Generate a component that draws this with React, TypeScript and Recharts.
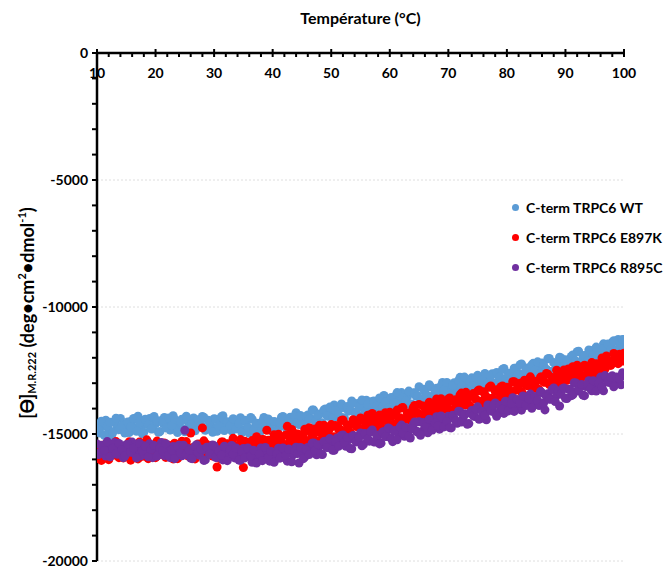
import React from "react";
import {
	ScatterChart,
	Scatter,
	XAxis,
	YAxis,
	ZAxis,
	CartesianGrid,
} from "recharts";

// temperature (°C), first scan: one reading every 0.5 °C
const temps = [
	10, 10.5, 11, 11.5, 12, 12.5, 13, 13.5, 14, 14.5,
	15, 15.5, 16, 16.5, 17, 17.5, 18, 18.5, 19, 19.5,
	20, 20.5, 21, 21.5, 22, 22.5, 23, 23.5, 24, 24.5,
	25, 25.5, 26, 26.5, 27, 27.5, 28, 28.5, 29, 29.5,
	30, 30.5, 31, 31.5, 32, 32.5, 33, 33.5, 34, 34.5,
	35, 35.5, 36, 36.5, 37, 37.5, 38, 38.5, 39, 39.5,
	40, 40.5, 41, 41.5, 42, 42.5, 43, 43.5, 44, 44.5,
	45, 45.5, 46, 46.5, 47, 47.5, 48, 48.5, 49, 49.5,
	50, 50.5, 51, 51.5, 52, 52.5, 53, 53.5, 54, 54.5,
	55, 55.5, 56, 56.5, 57, 57.5, 58, 58.5, 59, 59.5,
	60, 60.5, 61, 61.5, 62, 62.5, 63, 63.5, 64, 64.5,
	65, 65.5, 66, 66.5, 67, 67.5, 68, 68.5, 69, 69.5,
	70, 70.5, 71, 71.5, 72, 72.5, 73, 73.5, 74, 74.5,
	75, 75.5, 76, 76.5, 77, 77.5, 78, 78.5, 79, 79.5,
	80, 80.5, 81, 81.5, 82, 82.5, 83, 83.5, 84, 84.5,
	85, 85.5, 86, 86.5, 87, 87.5, 88, 88.5, 89, 89.5,
	90, 90.5, 91, 91.5, 92, 92.5, 93, 93.5, 94, 94.5,
	95, 95.5, 96, 96.5, 97, 97.5, 98, 98.5, 99, 99.5,
	100,
];

// in-between readings (x.25 / x.75 °C)
const tempsB = [
	10.25, 10.75, 11.25, 11.75, 12.25, 12.75, 13.25, 13.75, 14.25, 14.75,
	15.25, 15.75, 16.25, 16.75, 17.25, 17.75, 18.25, 18.75, 19.25, 19.75,
	20.25, 20.75, 21.25, 21.75, 22.25, 22.75, 23.25, 23.75, 24.25, 24.75,
	25.25, 25.75, 26.25, 26.75, 27.25, 27.75, 28.25, 28.75, 29.25, 29.75,
	30.25, 30.75, 31.25, 31.75, 32.25, 32.75, 33.25, 33.75, 34.25, 34.75,
	35.25, 35.75, 36.25, 36.75, 37.25, 37.75, 38.25, 38.75, 39.25, 39.75,
	40.25, 40.75, 41.25, 41.75, 42.25, 42.75, 43.25, 43.75, 44.25, 44.75,
	45.25, 45.75, 46.25, 46.75, 47.25, 47.75, 48.25, 48.75, 49.25, 49.75,
	50.25, 50.75, 51.25, 51.75, 52.25, 52.75, 53.25, 53.75, 54.25, 54.75,
	55.25, 55.75, 56.25, 56.75, 57.25, 57.75, 58.25, 58.75, 59.25, 59.75,
	60.25, 60.75, 61.25, 61.75, 62.25, 62.75, 63.25, 63.75, 64.25, 64.75,
	65.25, 65.75, 66.25, 66.75, 67.25, 67.75, 68.25, 68.75, 69.25, 69.75,
	70.25, 70.75, 71.25, 71.75, 72.25, 72.75, 73.25, 73.75, 74.25, 74.75,
	75.25, 75.75, 76.25, 76.75, 77.25, 77.75, 78.25, 78.75, 79.25, 79.75,
	80.25, 80.75, 81.25, 81.75, 82.25, 82.75, 83.25, 83.75, 84.25, 84.75,
	85.25, 85.75, 86.25, 86.75, 87.25, 87.75, 88.25, 88.75, 89.25, 89.75,
	90.25, 90.75, 91.25, 91.75, 92.25, 92.75, 93.25, 93.75, 94.25, 94.75,
	95.25, 95.75, 96.25, 96.75, 97.25, 97.75, 98.25, 98.75, 99.25, 99.75,
];

const wtValues = [
	-14640, -14960, -14700, -14460, -14820, -15050, -14550, -14730, -14390, -14840,
	-14620, -14940, -14470, -14770, -14300, -14690, -14930, -14540, -14390, -14800,
	-14600, -14930, -14470, -14350, -14680, -14840, -14280, -14740, -14560, -14420,
	-14910, -14510, -14660, -14370, -14770, -14590, -14310, -14850, -14460, -14670,
	-14400, -14890, -14530, -14280, -14740, -14590, -14870, -14450, -14660, -14360,
	-14830, -14530, -14970, -14420, -14720, -14600, -14810, -14350, -14670, -14490,
	-14910, -14540, -14750, -14340, -14610, -14850, -14340, -14600, -14160, -14630,
	-14400, -14660, -14250, -14390, -14060, -14510, -14210, -14570, -14020, -14300,
	-14150, -13860, -14320, -13990, -14360, -14000, -14100, -13700, -14150, -13800,
	-14290, -13910, -13670, -14000, -13720, -14090, -13740, -13850, -13480, -13960,
	-13660, -14000, -13500, -13730, -13370, -13760, -13540, -13860, -13390, -13510,
	-13140, -13670, -13340, -13510, -13150, -13610, -13200, -13330, -12970, -13400,
	-13180, -13470, -12980, -13210, -12770, -13190, -12990, -13260, -12790, -12980,
	-12690, -13080, -12780, -13180, -12810, -12630, -12990, -12680, -12790, -12420,
	-12820, -12610, -12900, -12410, -12610, -12240, -12720, -12400, -12560, -12220,
	-12720, -12370, -12210, -12480, -12040, -12540, -12200, -12290, -11980, -12370,
	-12080, -12400, -11950, -12120, -11760, -12180, -11920, -12200, -11690, -11930,
	-11690, -12020, -11690, -11450, -11820, -11620, -11390, -11690, -11280, -11540,
	-11280,
];

const wtValuesB = [
	-14840, -14500, -15050, -14680, -14540, -14920, -14380, -14830, -14680, -14960,
	-14530, -14720, -14390, -14890, -14550, -14990, -14420, -14640, -14800, -14310,
	-14480, -14900, -14570, -14760, -14370, -14670, -14420, -14940, -14520, -14810,
	-14300, -14720, -14590, -14870, -14440, -14630, -14350, -14800, -14540, -14930,
	-14420, -14690, -14320, -14860, -14520, -14660, -14400, -14800, -14590, -14940,
	-14460, -14740, -14350, -14850, -14580, -14980, -14500, -14670, -14410, -14800,
	-14510, -14880, -14560, -14310, -14740, -14460, -14820, -14290, -14540, -14270,
	-14670, -14310, -14410, -14060, -14500, -14260, -14560, -14050, -14270, -13940,
	-14380, -14080, -14240, -13820, -14370, -13920, -14050, -13790, -14160, -13930,
	-13660, -14120, -13830, -14190, -13700, -13890, -13580, -13940, -13750, -13990,
	-13560, -13760, -13370, -13870, -13560, -13700, -13310, -13820, -13380, -13490,
	-13710, -13240, -13480, -13060, -13510, -13290, -13590, -13110, -13260, -12970,
	-13370, -13090, -13410, -12900, -13120, -12760, -13230, -12920, -13090, -12780,
	-13190, -12860, -12620, -13000, -12720, -13090, -12580, -12760, -12460, -12870,
	-12620, -12880, -12410, -12680, -12270, -12710, -12480, -12780, -12280, -12480,
	-12160, -12610, -12270, -12450, -12030, -12540, -12200, -12260, -12010, -12330,
	-12110, -12400, -11890, -12120, -11740, -12150, -11910, -12140, -11710, -11890,
	-11580, -11910, -11650, -11960, -11460, -11660, -11330, -11680, -11450, -11280,
];

const e897kValues = [
	-15960, -15520, -15760, -15390, -16010, -15640, -15830, -15440, -15680, -15940,
	-15540, -15310, -15840, -15590, -15980, -15440, -15730, -15230, -15870, -15610,
	-15930, -15480, -15670, -15350, -15830, -15540, -15980, -15420, -15720, -15290,
	-15630, -15860, -14960, -15600, -15770, -15570, -14760, -15370, -15660, -15450,
	-15830, -16300, -15970, -15320, -15670, -15390, -15720, -15470, -15740, -15220,
	-16320, -15780, -15340, -15260, -15600, -15360, -15690, -15230, -14850, -15580,
	-15220, -15440, -15010, -15300, -15540, -14700, -15200, -14950, -15390, -15030,
	-15170, -14810, -15370, -14900, -15170, -14920, -14660, -15140, -14830, -14990,
	-14630, -15110, -14700, -14810, -14450, -14910, -14680, -15010, -14490, -14710,
	-14370, -14790, -14470, -14560, -14190, -14640, -14420, -14710, -14250, -14460,
	-14140, -14650, -14240, -14410, -13980, -14430, -14180, -14450, -13960, -14170,
	-13840, -14240, -13980, -14310, -13850, -13980, -13620, -14130, -13790, -13960,
	-13620, -14070, -13730, -13890, -13460, -13740, -13360, -13850, -13500, -13580,
	-13310, -13810, -13340, -13540, -13160, -13590, -13320, -13680, -13140, -13340,
	-13160, -13490, -12940, -13280, -13120, -13340, -12880, -13100, -12750, -13180,
	-12930, -13260, -12760, -12960, -12650, -12990, -12810, -12490, -12980, -12660,
	-12750, -12440, -12820, -12560, -12290, -12650, -12360, -12710, -12400, -12190,
	-12500, -12250, -12560, -12120, -11930, -12280, -12130, -11890, -12230, -11980,
	-11820,
];

const e897kValuesB = [
	-15550, -16040, -15670, -15900, -15400, -15770, -15300, -15930, -15600, -15820,
	-15420, -16030, -15540, -15670, -15320, -15880, -15590, -15970, -15440, -15730,
	-15280, -15810, -15620, -15920, -15440, -15690, -15360, -15970, -15520, -15750,
	-15300, -15850, -15540, -15980, -15390, -15640, -15270, -15780, -15470, -15870,
	-15550, -15910, -15320, -15670, -15380, -15810, -15170, -15600, -15430, -15880,
	-15290, -15630, -15410, -15740, -15110, -15430, -15220, -15680, -15250, -15520,
	-15030, -15370, -15230, -15540, -15040, -15360, -14820, -15190, -15000, -15360,
	-15010, -15260, -14750, -15100, -14800, -15300, -14940, -14660, -15070, -14790,
	-15130, -14670, -14820, -14470, -14930, -14640, -14950, -14440, -14700, -14480,
	-14820, -14530, -14260, -14690, -14420, -14800, -14250, -14440, -14160, -14560,
	-14290, -14610, -14060, -14360, -13960, -14420, -14170, -14300, -13880, -14170,
	-14380, -13900, -14080, -13750, -14190, -13910, -14030, -13610, -14030, -13820,
	-13580, -14040, -13650, -13760, -13390, -13860, -13590, -13910, -13410, -13640,
	-13270, -13710, -13450, -13590, -13110, -13640, -13260, -13390, -13110, -13570,
	-13180, -13410, -12940, -13240, -13000, -13430, -13050, -12850, -13170, -12920,
	-13220, -12760, -12950, -12620, -13050, -12780, -13040, -12690, -12810, -12480,
	-12890, -12620, -12350, -12720, -12530, -12780, -12290, -12490, -12300, -12710,
	-12230, -12370, -12010, -12440, -12150, -12300, -11830, -12080, -11860, -12130,
];

const r895cValues = [
	-15390, -15740, -15550, -15870, -15460, -15610, -15340, -15800, -15530, -15930,
	-15420, -15660, -15320, -15780, -15590, -15860, -15460, -15660, -15380, -15930,
	-15540, -15750, -15340, -15850, -15600, -15930, -15490, -15700, -15440, -15860,
	-14850, -15570, -15950, -15650, -15420, -15840, -15630, -16020, -15520, -15760,
	-15460, -15920, -15620, -16020, -15580, -15820, -15450, -15940, -15730, -16030,
	-15570, -15880, -15660, -16110, -15750, -15970, -15550, -15870, -15660, -16070,
	-15750, -15950, -15560, -15820, -15600, -16070, -15660, -15820, -15520, -16140,
	-15730, -15900, -15530, -15680, -15350, -15820, -15470, -15810, -15290, -15520,
	-15360, -15640, -15160, -15370, -15040, -15480, -15230, -15580, -15110, -15280,
	-14960, -15410, -15080, -15280, -14840, -15310, -15070, -15360, -14900, -15100,
	-14800, -15300, -14860, -14990, -14650, -15090, -14820, -15160, -14630, -14880,
	-14520, -14900, -14690, -14950, -14510, -14660, -14320, -14810, -14470, -14640,
	-14300, -14760, -14380, -14580, -14120, -14390, -14200, -14590, -14080, -14310,
	-13930, -14390, -14100, -14440, -13930, -14110, -13780, -14180, -13890, -14190,
	-13770, -13900, -13570, -14030, -13740, -14060, -13570, -13800, -13430, -13810,
	-13610, -13880, -13380, -14050, -13420, -13620, -13190, -13470, -13900, -13220,
	-13590, -13240, -13490, -12980, -13310, -13070, -13470, -13130, -12900, -13300,
	-13020, -13170, -12760, -13300, -12860, -12970, -12710, -13030, -12780, -13060,
	-12700,
];

const r895cValuesB = [
	-15810, -15440, -15650, -15300, -15900, -15560, -15770, -15370, -15610, -15870,
	-15410, -15720, -15540, -15940, -15360, -15650, -15490, -15900, -15600, -15450,
	-15870, -15540, -15670, -15380, -15840, -15620, -15970, -15500, -15750, -15440,
	-15820, -15630, -15970, -15480, -15720, -15590, -16040, -15520, -15800, -15430,
	-15920, -15670, -15830, -15480, -16050, -15620, -15790, -15550, -16030, -15690,
	-15940, -15550, -15860, -15640, -16140, -15800, -16050, -15530, -15930, -15690,
	-16110, -15770, -15950, -15550, -15840, -15590, -16090, -15660, -15770, -15530,
	-15970, -15620, -15810, -15360, -15650, -15420, -15790, -15300, -15530, -15180,
	-15640, -15300, -15480, -15060, -15330, -15140, -15570, -15060, -15310, -15140,
	-15460, -14980, -15180, -14910, -15310, -15040, -15390, -14930, -15100, -14760,
	-15180, -14890, -15230, -14730, -14960, -14740, -15090, -14790, -14530, -14920,
	-15050, -14550, -14720, -14420, -14840, -14570, -14680, -14290, -14720, -14510,
	-14750, -14260, -14480, -14100, -14530, -14240, -14620, -14180, -14270, -14030,
	-14420, -14110, -14260, -13860, -14060, -13860, -14300, -13880, -14010, -13710,
	-14090, -13800, -14110, -13640, -13780, -13500, -13880, -13610, -13990, -13520,
	-13680, -13330, -13790, -13530, -13630, -13250, -13720, -13310, -13430, -13190,
	-13600, -13240, -13460, -12990, -13250, -13050, -13490, -13050, -13200, -12900,
	-13310, -12990, -13150, -12700, -12940, -12760, -13140, -12760, -12820, -12590,
];

const xTicks = [
	10, 12, 14, 16, 18, 20, 22, 24, 26, 28, 30, 32, 34, 36, 38, 40, 42, 44, 46, 48,
	50, 52, 54, 56, 58, 60, 62, 64, 66, 68, 70, 72, 74, 76, 78, 80, 82, 84, 86, 88,
	90, 92, 94, 96, 98, 100,
];
const yTicks = [
	0, -1000, -2000, -3000, -4000, -5000, -6000, -7000, -8000, -9000, -10000,
	-11000, -12000, -13000, -14000, -15000, -16000, -17000, -18000, -19000, -20000,
];
const yGrid = [-5000, -10000, -15000, -20000];

const series = [
	{ name: "C-term TRPC6 WT", color: "#5B9BD5", a: wtValues, b: wtValuesB },
	{ name: "C-term TRPC6 E897K", color: "#FF0000", a: e897kValues, b: e897kValuesB },
	{ name: "C-term TRPC6 R895C", color: "#7030A0", a: r895cValues, b: r895cValuesB },
];

const FONT = "Lato, 'Open Sans', sans-serif";

const XTick = (props: any) => {
	const { x, y, payload } = props;
	const major = payload.value % 10 === 0;
	return (
		<g>
			<line
				x1={x}
				x2={x}
				y1={major ? y - 4 : y}
				y2={y + 4}
				stroke="#000"
				strokeWidth={2}
			/>
			{major && (
				<text
					x={x}
					y={y + 25}
					textAnchor="middle"
					fontFamily={FONT}
					fontWeight={700}
					fontSize={14}
					fill="#000"
				>
					{payload.value}
				</text>
			)}
		</g>
	);
};

const YTick = (props: any) => {
	const { x, y, payload } = props;
	const major = payload.value % 5000 === 0;
	return (
		<g>
			<line
				x1={x - 5}
				x2={x}
				y1={y}
				y2={y}
				stroke="#000"
				strokeWidth={2}
			/>
			{major && (
				<text
					x={x - 9}
					y={y}
					dy="0.35em"
					textAnchor="end"
					fontFamily={FONT}
					fontWeight={700}
					fontSize={14}
					fill="#000"
				>
					{payload.value}
				</text>
			)}
		</g>
	);
};

const XTitle = (props: any) => {
	const { viewBox } = props;
	return (
		<text
			x={viewBox.x + viewBox.width / 2}
			y={viewBox.y + 16}
			textAnchor="middle"
			fontFamily={FONT}
			fontWeight={700}
			fontSize={16}
			fill="#000"
		>
			Température (°C)
		</text>
	);
};

const YTitle = (props: any) => {
	const { viewBox } = props;
	const cx = viewBox.x + 19;
	const cy = viewBox.y + viewBox.height / 2 + 6;
	return (
		<text
			x={cx}
			y={cy}
			transform={`rotate(-90 ${cx} ${cy})`}
			textAnchor="middle"
			dominantBaseline="central"
			fontFamily={FONT}
			fontWeight={700}
			fontSize={18}
			fill="#000"
		>
			[ϴ]
			<tspan fontSize={11} dy={4}>
				M.R.222
			</tspan>
			<tspan dy={-4}> (deg•cm</tspan>
			<tspan fontSize={11} dy={-6}>
				2
			</tspan>
			<tspan dy={6}>•dmol</tspan>
			<tspan fontSize={11} dy={-6}>
				-1
			</tspan>
			<tspan dy={6}>)</tspan>
		</text>
	);
};

const LegendBox = () => (
	<div
		style={{
			position: "absolute",
			left: 512,
			top: 192,
			fontFamily: FONT,
			fontWeight: 700,
			fontSize: 14,
			whiteSpace: "nowrap",
		}}
	>
		{series.map((s) => (
			<div
				key={s.name}
				style={{
					display: "flex",
					alignItems: "center",
					height: 30,
					color: "#000",
				}}
			>
				<span
					style={{
						width: 7,
						height: 7,
						borderRadius: "50%",
						background: s.color,
						marginRight: 7,
					}}
				/>
				{s.name}
			</div>
		))}
	</div>
);

export default function App() {
	return (
		<div
			style={{
				position: "absolute",
				left: 0,
				top: 0,
				width: 668,
				height: 570,
				background: "#fff",
			}}
		>
			<ScatterChart
				width={668}
				height={570}
				margin={{ top: 8, right: 44, bottom: 9, left: 8 }}
			>
				<CartesianGrid
					vertical={false}
					horizontalValues={yGrid}
					stroke="#dedede"
					strokeDasharray="2 2"
				/>
				<XAxis
					type="number"
					dataKey="t"
					orientation="top"
					domain={[10, 100]}
					ticks={xTicks}
					interval={0}
					height={45}
					tickSize={0}
					tickMargin={0}
					tick={<XTick />}
					axisLine={{ stroke: "#000", strokeWidth: 2.5 }}
					tickLine={false}
					allowDataOverflow
					label={{ content: <XTitle /> }}
				/>
				<YAxis
					type="number"
					dataKey="v"
					domain={[-20000, 0]}
					ticks={yTicks}
					interval={0}
					width={89}
					tickSize={0}
					tickMargin={0}
					tick={<YTick />}
					axisLine={{ stroke: "#000", strokeWidth: 2.5 }}
					tickLine={false}
					allowDataOverflow
					label={{ content: <YTitle /> }}
				/>
				<ZAxis range={[46, 46]} />
				{series.map((s) => (
					<Scatter
						key={s.name}
						name={s.name}
						data={[
							...temps.map((t, i) => ({ t, v: s.a[i] })),
							...tempsB.map((t, i) => ({ t, v: s.b[i] })),
						]}
						fill={s.color}
						isAnimationActive={false}
					/>
				))}
			</ScatterChart>
			<LegendBox />
		</div>
	);
}
